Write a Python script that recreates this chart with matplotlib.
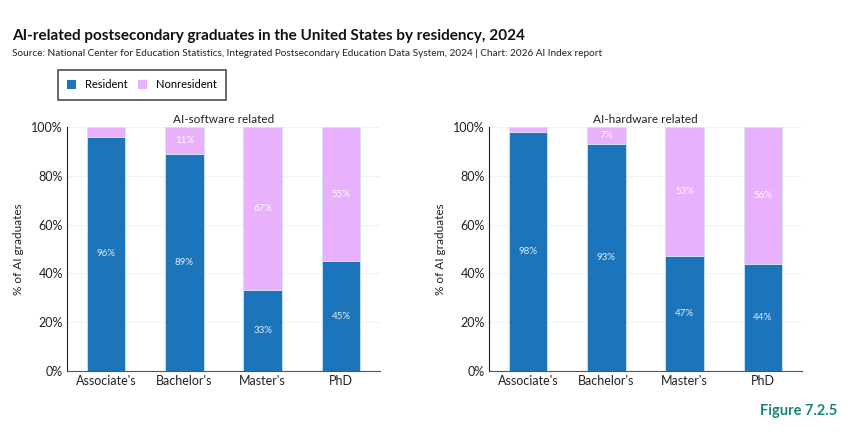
import matplotlib.pyplot as plt
from matplotlib.patches import Patch
import numpy as np

plt.rcParams['font.family'] = ['Lato', 'DejaVu Sans']

degrees = ["Associate's", "Bachelor's", "Master's", "PhD"]
sw_resident = [96, 89, 33, 45]
sw_nonresident = [4, 11, 67, 55]
hw_resident = [98, 93, 47, 44]
hw_nonresident = [2, 7, 53, 56]
panels = [('AI-software related', sw_resident, sw_nonresident),
          ('AI-hardware related', hw_resident, hw_nonresident)]

C_RES = '#1c75bb'
C_NON = '#e9b0fb'

fig = plt.figure(figsize=(8.5, 4.32), dpi=100)
fig.text(0.014, 0.908, 'AI-related postsecondary graduates in the United States by residency, 2024',
         fontsize=11, fontweight='bold', color='#111111')
fig.text(0.014, 0.87, 'Source: National Center for Education Statistics, Integrated Postsecondary Education '
         'Data System, 2024 | Chart: 2026 AI Index report', fontsize=7.2, color='#222222')
fig.text(0.985, 0.04, 'Figure 7.2.5', fontsize=10.5, fontweight='bold', color='#17847c', ha='right')

lefts = [67 / 850, 489 / 850]
x = np.arange(len(degrees))
for left, (title, res, non) in zip(lefts, panels):
    ax = fig.add_axes([left, 1 - 371 / 432, 313 / 850, 244 / 432])
    ax.bar(x, res, width=0.49, color=C_RES, edgecolor='#cfe3f5', linewidth=0.6, zorder=3)
    ax.bar(x, non, width=0.49, bottom=res, color=C_NON, edgecolor='#cfe3f5', linewidth=0.6, zorder=3)
    for i in range(len(degrees)):
        ax.text(x[i], res[i] / 2, f'{res[i]}%', ha='center', va='center', fontsize=7,
                color='#e6eef8', zorder=4)
        if non[i] >= 5:
            ax.text(x[i], res[i] + non[i] / 2, f'{non[i]}%', ha='center', va='center',
                    fontsize=7, color='#ffffff', zorder=4)
    ax.set_xlim(-0.5, 3.5)
    ax.set_ylim(0, 100)
    ax.set_yticks(range(0, 101, 20))
    ax.set_yticklabels([f'{v}%' for v in range(0, 101, 20)])
    ax.set_xticks(x)
    ax.set_xticklabels(degrees)
    ax.tick_params(axis='both', length=0, labelsize=9, colors='#222222', pad=3)
    ax.grid(axis='y', color='#f2f2f2', linewidth=0.8, zorder=0)
    for s in ['top', 'right']:
        ax.spines[s].set_visible(False)
    ax.spines['left'].set_color('#222222')
    ax.spines['bottom'].set_color('#555555')
    ax.set_ylabel('% of AI graduates', fontsize=8.5, color='#222222', labelpad=5)
    ax.set_title(title, fontsize=8.5, color='#222222', pad=3)

handles = [Patch(facecolor=C_RES, label='Resident'), Patch(facecolor=C_NON, label='Nonresident')]
leg = fig.legend(handles=handles, loc='upper left', bbox_to_anchor=(58 / 850, 1 - 70 / 432),
                 borderaxespad=0, ncol=2, fontsize=8, frameon=True, fancybox=False,
                 handlelength=0.8, handleheight=0.8, handletextpad=0.8, columnspacing=0.9,
                 borderpad=0.85)
leg.get_frame().set_edgecolor('#222222')
leg.get_frame().set_linewidth(1.2)

fig.savefig('out.png', dpi=100)
